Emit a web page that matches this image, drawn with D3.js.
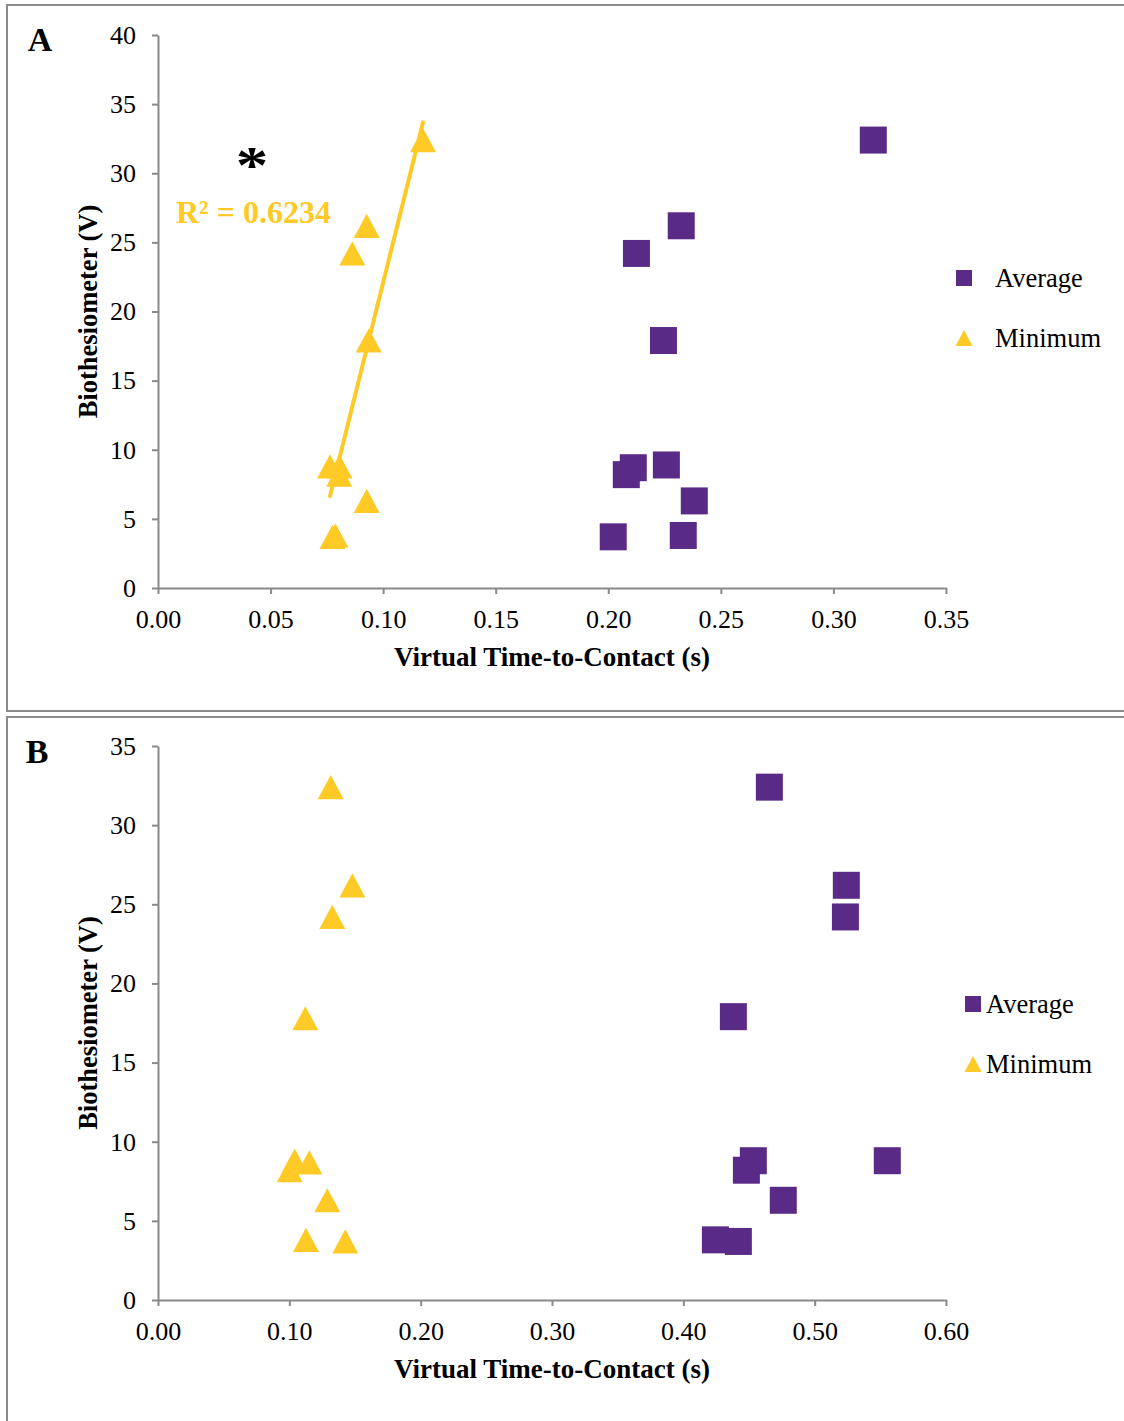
<!DOCTYPE html>
<html>
<head>
<meta charset="utf-8">
<script src="https://cdn.jsdelivr.net/npm/d3@7"></script>
<style>
  html, body { margin: 0; padding: 0; background: #fff; }
  svg { display: block; font-family: "Liberation Serif", "Times New Roman", serif; }
</style>
</head>
<body>
<script>
// ---------- DATA ----------
// Panel A
const aAverageX = [0.3177, 0.2324, 0.2125, 0.2245, 0.2111, 0.2080, 0.2258, 0.2382, 0.2022, 0.2333];
const aAverageY = [32.4, 26.2, 24.2, 17.9, 8.7, 8.2, 8.9, 6.3, 3.7, 3.8];
const aMinimumX = [0.1177, 0.0927, 0.0863, 0.0936, 0.0764, 0.0806, 0.0805, 0.0927, 0.0775, 0.0788];
const aMinimumY = [32.4, 26.2, 24.2, 17.9, 8.8, 8.8, 8.2, 6.3, 3.7, 3.8];
const aXTicks = [0, 0.05, 0.10, 0.15, 0.20, 0.25, 0.30, 0.35];
const aYTicks = [0, 5, 10, 15, 20, 25, 30, 35, 40];
const aR2Label = "R² = 0.6234";
// Panel B
const bAverageX = [0.4655, 0.5241, 0.5234, 0.4381, 0.4533, 0.4480, 0.5553, 0.4761, 0.4244, 0.4419];
const bAverageY = [32.4, 26.2, 24.2, 17.9, 8.8, 8.2, 8.8, 6.3, 3.8, 3.7];
const bMinimumX = [0.1315, 0.1480, 0.1327, 0.1122, 0.1003, 0.1041, 0.1152, 0.1289, 0.1127, 0.1426];
const bMinimumY = [32.4, 26.2, 24.2, 17.8, 8.2, 8.8, 8.7, 6.3, 3.8, 3.7];
const bXTicks = [0, 0.10, 0.20, 0.30, 0.40, 0.50, 0.60];
const bYTicks = [0, 5, 10, 15, 20, 25, 30, 35];
const seriesNames = ["Average", "Minimum"];
const xTitle = "Virtual Time-to-Contact (s)";
const yTitle = "Biothesiometer (V)";

// ---------- STYLE ----------
const PURPLE = "#5A2A87";
const GOLD = "#FFC926";
const AXIS = "#898989";
const BORDER = "#8a8a8a";

const W = 1124, H = 1421;
const svg = d3.select("body").append("svg").attr("width", W).attr("height", H);

// custom triangle symbol (bbox-centered, width ~ height)
const triType = {
  draw(ctx, size) {
    const w = Math.sqrt(size);
    const h = w * 0.93;
    ctx.moveTo(0, -h / 2);
    ctx.lineTo(w / 2, h / 2);
    ctx.lineTo(-w / 2, h / 2);
    ctx.closePath();
  }
};

// panel borders
svg.append("rect").attr("x", 7).attr("y", 5).attr("width", 1130).attr("height", 706)
  .attr("fill", "none").attr("stroke", BORDER).attr("stroke-width", 2);
svg.append("rect").attr("x", 7).attr("y", 717).attr("width", 1130).attr("height", 720)
  .attr("fill", "none").attr("stroke", BORDER).attr("stroke-width", 2);

function panel(opt) {
  const g = svg.append("g");
  const x = d3.scaleLinear().domain([opt.xTicks[0], opt.xTicks[opt.xTicks.length - 1]]).range([158, 946]);
  const y = d3.scaleLinear().domain([opt.yTicks[0], opt.yTicks[opt.yTicks.length - 1]]).range([opt.bottom, opt.top]);

  const xa = g.append("g").attr("transform", `translate(0,${opt.bottom})`)
    .call(d3.axisBottom(x).tickValues(opt.xTicks).tickFormat(d3.format(".2f")).tickSizeInner(6).tickSizeOuter(0).tickPadding(16));
  const ya = g.append("g").attr("transform", `translate(158,0)`)
    .call(d3.axisLeft(y).tickValues(opt.yTicks).tickFormat(d3.format("d")).tickSizeInner(6).tickSizeOuter(0).tickPadding(16));
  [xa, ya].forEach(a => {
    a.select(".domain").attr("stroke", AXIS).attr("stroke-width", 2);
    a.selectAll(".tick line").attr("stroke", AXIS).attr("stroke-width", 2);
    a.selectAll(".tick text").attr("fill", "#000").attr("font-size", 26)
      .attr("font-family", '"Liberation Serif", "Times New Roman", serif');
  });

  // axis titles
  g.append("text").attr("x", 552).attr("y", opt.bottom + 78).attr("text-anchor", "middle")
    .attr("font-size", 27).attr("font-weight", "bold").text(xTitle);
  g.append("text").attr("transform", `translate(88,${(opt.top + opt.bottom) / 2}) rotate(-90)`)
    .attr("text-anchor", "middle").attr("dominant-baseline", "central")
    .attr("font-size", 26.5).attr("font-weight", "bold").text(yTitle);

  // panel letter
  g.append("text").attr("x", opt.letterX).attr("y", opt.letterY).attr("text-anchor", "middle")
    .attr("font-size", 34).attr("font-weight", "bold").text(opt.letter);

  const avg = opt.avgX.map((v, i) => [v, opt.avgY[i]]);
  const min = opt.minX.map((v, i) => [v, opt.minY[i]]);

  g.selectAll("path.avg").data(avg).enter().append("path").attr("class", "avg")
    .attr("transform", d => `translate(${x(d[0])},${y(d[1])})`)
    .attr("d", d3.symbol(d3.symbolSquare, 27 * 27)).attr("fill", PURPLE);
  g.selectAll("path.min").data(min).enter().append("path").attr("class", "min")
    .attr("transform", d => `translate(${x(d[0])},${y(d[1])})`)
    .attr("d", d3.symbol(triType, 26 * 26)).attr("fill", GOLD);

  if (opt.trend) {
    // least-squares fit of Minimum series
    const mx = d3.mean(min, d => d[0]), my = d3.mean(min, d => d[1]);
    const sxy = d3.sum(min, d => (d[0] - mx) * (d[1] - my));
    const sxx = d3.sum(min, d => (d[0] - mx) ** 2);
    const slope = sxy / sxx, icpt = my - slope * mx;
    const [x0, x1] = d3.extent(min, d => d[0]);
    g.append("path").datum([[x0, icpt + slope * x0], [x1, icpt + slope * x1]])
      .attr("d", d3.line().x(d => x(d[0])).y(d => y(d[1])))
      .attr("stroke", GOLD).attr("stroke-width", 4).attr("stroke-linecap", "round").attr("fill", "none");
    g.append("text").attr("x", 176).attr("y", 223).attr("font-size", 32).attr("font-weight", "bold")
      .attr("fill", GOLD).text(opt.r2);
    // significance asterisk: glyph centred at (252, 157)
    const ast = g.append("text").attr("x", 0).attr("y", 0).attr("font-size", 50).attr("font-weight", "bold")
      .attr("fill", "#000").attr("text-anchor", "middle").text("*");
    const sx = 1.3, sy = 1.05;
    const gy = -0.5 * 50; // approximate glyph centre above baseline
    ast.attr("transform", `translate(252,${157 - gy * sy}) scale(${sx},${sy})`);
  }

  // legend
  const L = opt.legend;
  g.append("path").attr("transform", `translate(${L.mx},${L.y1})`)
    .attr("d", d3.symbol(d3.symbolSquare, 16 * 16)).attr("fill", PURPLE);
  g.append("path").attr("transform", `translate(${L.mx},${L.y2})`)
    .attr("d", d3.symbol(triType, 17 * 17)).attr("fill", GOLD);
  g.append("text").attr("x", L.tx).attr("y", L.y1).attr("dominant-baseline", "central")
    .attr("font-size", 26.5).text(seriesNames[0]);
  g.append("text").attr("x", L.tx).attr("y", L.y2).attr("dominant-baseline", "central")
    .attr("font-size", 26.5).text(seriesNames[1]);
}

panel({
  top: 35, bottom: 588, xTicks: aXTicks, yTicks: aYTicks,
  avgX: aAverageX, avgY: aAverageY, minX: aMinimumX, minY: aMinimumY,
  trend: true, r2: aR2Label, letter: "A", letterX: 40, letterY: 51,
  legend: { mx: 964, tx: 995, y1: 278, y2: 338 }
});
panel({
  top: 746, bottom: 1300, xTicks: bXTicks, yTicks: bYTicks,
  avgX: bAverageX, avgY: bAverageY, minX: bMinimumX, minY: bMinimumY,
  trend: false, letter: "B", letterX: 37, letterY: 763,
  legend: { mx: 973, tx: 986, y1: 1004, y2: 1064 }
});
</script>
</body>
</html>
